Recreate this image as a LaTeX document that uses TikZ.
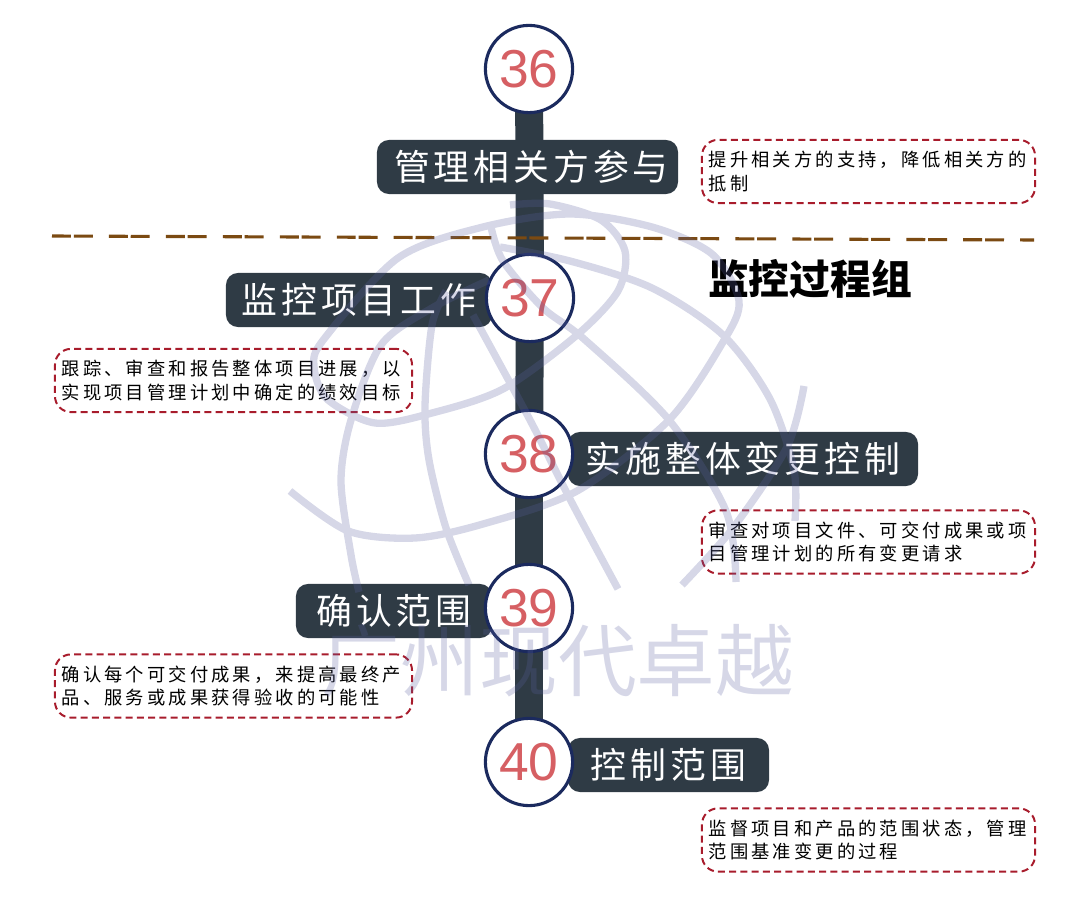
\documentclass[tikz,border=0pt]{standalone}
\usepackage{fontspec}
\setmainfont{Noto Sans CJK SC}
\newfontfamily\boxfont[LetterSpace=11]{Noto Sans CJK SC}
\newfontfamily\notefont[LetterSpace=17]{Noto Sans CJK SC}
\newfontfamily\numfont{Liberation Sans}
\usetikzlibrary{backgrounds}
\definecolor{spinecol}{HTML}{2F3B45}
\definecolor{ringcol}{HTML}{1B2A5E}
\definecolor{numcol}{HTML}{D65F63}
\definecolor{notecol}{HTML}{A81C2C}
\definecolor{splitcol}{HTML}{7B4A12}
\definecolor{markcol}{HTML}{5A5FA0}
\tikzset{
    numcircle/.style={circle,draw=ringcol,line width=2.2pt,fill=white,minimum size=2.18cm,inner sep=0pt,text=numcol,font=\numfont\fontsize{38}{38}\selectfont},
    titlebox/.style={rounded corners=0.3cm,fill=spinecol,text=white,minimum height=1.35cm,inner sep=0pt,font=\boxfont\fontsize{25.5}{25.5}\selectfont},
    notebox/.style={rounded corners=0.4cm,draw=notecol,line width=1.4pt,dash pattern=on 5pt off 3pt,align=left,inner xsep=0.17cm,inner ysep=0pt,minimum height=1.58cm,font=\notefont\fontsize{13}{17}\selectfont},
    spine/.style={spinecol,line width=0.7cm},
    splitline/.style={splitcol,line width=2.2pt,dash pattern=on 13.5pt off 2pt on 13.5pt off 11.5pt},
    globe/.style={markcol,line width=5.2pt}
}
\begin{document}
\begin{tikzpicture}[x=0.025cm,y=-0.025cm]
    \useasboundingbox (0,0) rectangle (1080,906);
    % Cajas de proceso
    \node[titlebox,minimum width=7.525cm] (b36) at (527.5,167) {\hspace*{0.2cm}管理相关方参与};
    \node[titlebox,minimum width=6.65cm] (b37) at (359,300) {监控项目工作};
    \node[titlebox,minimum width=8.75cm] (b38) at (743,459) {实施整体变更控制};
    \node[titlebox,minimum width=4.9cm] (b39) at (394,611) {确认范围};
    \node[titlebox,minimum width=5.025cm] (b40) at (668.5,765) {控制范围};
    % Circulos
    \node[numcircle] (c36) at (529,69) {36};
    \node[numcircle] (c37) at (530,298) {37};
    \node[numcircle] (c38) at (529,454) {38};
    \node[numcircle] (c39) at (529,608) {39};
    \node[numcircle] (c40) at (529,762) {40};
    % Columna central
    \begin{pgfonlayer}{background}
        \draw[spine] (c36.center) -- (c37.center);
        \draw[spine] (c37.center) -- (c38.center);
        \draw[spine] (c38.center) -- (c39.center);
        \draw[spine] (c39.center) -- (c40.center);
    \end{pgfonlayer}
    % Notas
    \node[notebox,text width=7.985cm] (n36) at (868.5,171.5) {提升相关方的支持，降低相关方的\\抵制};
    \node[notebox,text width=8.585cm] (n37) at (233.5,380.5) {跟踪、审查和报告整体项目进展，以\\实现项目管理计划中确定的绩效目标};
    \node[notebox,text width=7.985cm] (n38) at (868.5,542) {审查对项目文件、可交付成果或项\\目管理计划的所有变更请求};
    \node[notebox,text width=8.585cm] (n39) at (233.5,686) {确认每个可交付成果，来提高最终产\\品、服务或成果获得验收的可能性};
    \node[notebox,text width=7.985cm] (n40) at (868.5,840) {监督项目和产品的范围状态，管理\\范围基准变更的过程};
    % Linea de grupo
    \coordinate (splitL) at (52,236);
    \coordinate (splitR) at (1034,240);
    \draw[splitline] (splitL) -- (splitR);
    \node[font=\bfseries\fontsize{29}{29}\selectfont] (grp) at (810,279) {监控过程组};
    % Marca de agua
    \begin{scope}[transparency group,opacity=0.25]
        \draw[globe] plot[smooth] coordinates {(290,491) (348,531) (415,538) (483,524) (577,491) (669,420) (723,342) (739,301) (712,254) (652,227) (570,214) (483,227) (398,258) (324,339) (314,366) (327,399) (375,423) (432,413) (503,389) (577,335) (618,291) (625,251) (601,220) (550,204) (510,205)};
        \draw[globe] plot[smooth] coordinates {(489,280) (432,308) (381,345) (351,420) (341,481) (351,555) (359,592)};
        \draw[globe] plot[smooth] coordinates {(446,291) (432,325) (425,406) (429,460) (446,528) (469,585)};
        \draw[globe] plot[smooth] coordinates {(473,315) (530,420) (571,501) (618,589)};
        \draw[globe] plot[smooth] coordinates {(491,227) (503,261) (543,308) (584,339) (669,420) (726,511) (736,582)};
        \draw[globe] plot[smooth] coordinates {(500,247) (570,261) (652,288) (723,335) (770,399) (794,470) (795,521)};
        \draw[globe] plot[smooth] coordinates {(682,585) (733,528) (787,447) (804,386)};
        \node[text=markcol,font=\fontsize{56}{56}\selectfont] (mark) at (558,661) {广州现代卓越};
    \end{scope}
\end{tikzpicture}
\end{document}
